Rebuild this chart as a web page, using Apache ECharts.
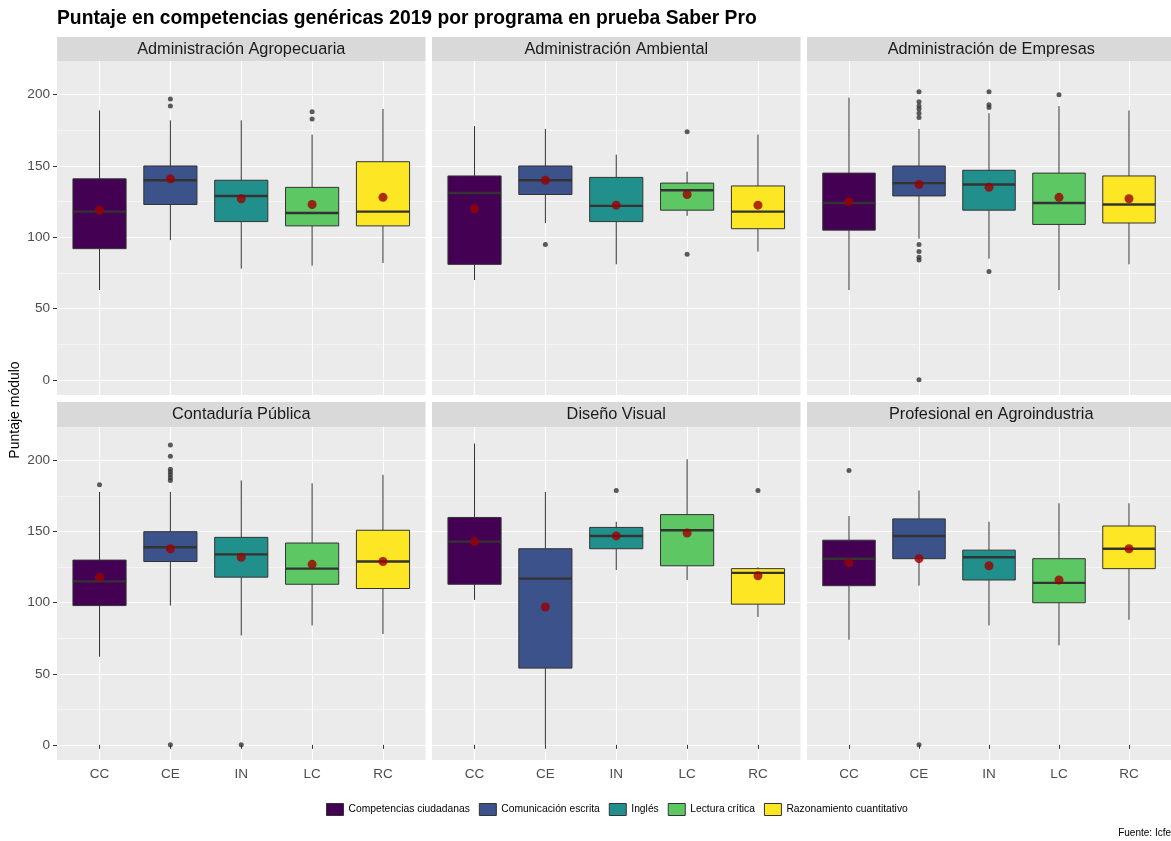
<!DOCTYPE html>
<html>
<head>
<meta charset="utf-8">
<script src="https://cdn.jsdelivr.net/npm/echarts@6/dist/echarts.min.js"></script>
<style>
  html, body { margin: 0; padding: 0; background: #fff; }
  #main { width: 1171px; height: 841px; }
</style>
</head>
<body>
<div id="main"></div>
<script>
// datos: [minimo bigote, Q1, mediana, Q3, maximo bigote]
var programas = ['Administración Agropecuaria', 'Administración Ambiental', 'Administración de Empresas',
    'Contaduría Pública', 'Diseño Visual', 'Profesional en Agroindustria'];
var competencias = ['Competencias ciudadanas', 'Comunicación escrita', 'Inglés', 'Lectura crítica', 'Razonamiento cuantitativo'];
var codigos = ['CC', 'CE', 'IN', 'LC', 'RC'];
var ticksY = [0, 50, 100, 150, 200];
var ticksYMenores = [25, 75, 125, 175];

var cajasAgropecuaria = [[63, 92, 118, 141, 189], [98, 123, 140, 150, 182], [78, 111, 129, 140, 182], [80, 108, 117, 135, 172], [82, 108, 118, 153, 190]];
var mediasAgropecuaria = [119, 141, 127, 123, 128];
var atipicosAgropecuaria = [[], [197, 192], [], [188, 183], []];

var cajasAmbiental = [[70, 81, 131, 143, 178], [110, 130, 140, 150, 176], [81, 111, 122, 142, 158], [115, 119, 133, 138, 146], [90, 106, 118, 136, 172]];
var mediasAmbiental = [120, 140, 122.5, 130, 122.5];
var atipicosAmbiental = [[], [95], [], [174, 88], []];

var cajasEmpresas = [[63, 105, 124, 145, 198], [99, 129, 138, 150, 176], [85, 119, 137, 147, 187], [63, 109, 124, 145, 192], [81, 110, 123, 143, 189]];
var mediasEmpresas = [125, 137, 135, 128, 127];
var atipicosEmpresas = [[], [202, 195, 192, 190, 187, 184, 95, 90, 86, 84, 0], [202, 193, 191, 76], [200], []];

var cajasContaduria = [[62, 98, 115, 130, 178], [98, 129, 139, 150, 178], [77, 118, 134, 146, 186], [84, 113, 124, 142, 184], [78, 110, 129, 151, 190]];
var mediasContaduria = [118, 138, 132, 127, 129];
var atipicosContaduria = [[183], [211, 203, 194, 192, 190, 188, 186, 0], [0], [], []];

var cajasDiseno = [[102, 113, 143, 160, 212], [0, 54, 117, 138, 178], [123, 138, 147, 153, 157], [116, 126, 151, 162, 201], [90, 99, 121, 124, 125]];
var mediasDiseno = [143, 97, 147, 149, 119];
var atipicosDiseno = [[], [], [179], [], [179]];

var cajasAgroindustria = [[74, 112, 131, 144, 161], [112, 131, 147, 159, 179], [84, 116, 132, 137, 157], [70, 100, 114, 131, 170], [88, 124, 138, 154, 170]];
var mediasAgroindustria = [128, 131, 126, 116, 138];
var atipicosAgroindustria = [[193], [0], [], [], []];

var cajas = [cajasAgropecuaria, cajasAmbiental, cajasEmpresas, cajasContaduria, cajasDiseno, cajasAgroindustria];
var medias = [mediasAgropecuaria, mediasAmbiental, mediasEmpresas, mediasContaduria, mediasDiseno, mediasAgroindustria];
var atipicos = [atipicosAgropecuaria, atipicosAmbiental, atipicosEmpresas, atipicosContaduria, atipicosDiseno, atipicosAgroindustria];

var colores = ['#440154', '#3B528B', '#21908C', '#5DC863', '#FDE725'];
var fuente = 'Liberation Sans, Arial, sans-serif';

var Mychart = echarts.init(document.getElementById('main'));

var izquierdas = [57, 432, 807];
var arribas = [61, 427];
var anchoPanel = 368.5;
var altoPanel = 334;

function dibujarCaja(params, api) {
    var x = api.value(0);
    var lo = api.coord([x, api.value(1)]);
    var q1 = api.coord([x, api.value(2)]);
    var me = api.coord([x, api.value(3)]);
    var q3 = api.coord([x, api.value(4)]);
    var hi = api.coord([x, api.value(5)]);
    var w = api.size([0.75, 0])[0];
    var linea = { stroke: '#333333', lineWidth: 1 };
    return {
        type: 'group',
        children: [
            { type: 'line', shape: { x1: lo[0], y1: lo[1], x2: q1[0], y2: q1[1] }, style: linea },
            { type: 'line', shape: { x1: q3[0], y1: q3[1], x2: hi[0], y2: hi[1] }, style: linea },
            { type: 'rect', shape: { x: q3[0] - w / 2, y: q3[1], width: w, height: q1[1] - q3[1] },
              style: { fill: api.visual('color'), stroke: '#333333', lineWidth: 1 } },
            { type: 'line', shape: { x1: me[0] - w / 2, y1: me[1], x2: me[0] + w / 2, y2: me[1] },
              style: { stroke: '#333333', lineWidth: 2.4 } }
        ]
    };
}

var grid = [], xAxis = [], yAxis = [], series = [], graphic = [];

programas.forEach(function (prog, p) {
    var col = p % 3, fila = Math.floor(p / 3);
    grid.push({
        left: izquierdas[col], top: arribas[fila], width: anchoPanel, height: fila == 0 ? altoPanel : 333,
        show: true, backgroundColor: '#EBEBEB', borderWidth: 0
    });
    xAxis.push({
        type: 'value', gridIndex: p, min: 0.4, max: 5.6, position: 'bottom',
        axisLine: { show: false },
        axisTick: { show: fila == 1, customValues: [1, 2, 3, 4, 5], length: 4, lineStyle: { color: '#333333' } },
        axisLabel: {
            show: fila == 1, customValues: [1, 2, 3, 4, 5], margin: 7,
            color: '#4D4D4D', fontSize: 13.5, fontFamily: fuente,
            formatter: function (v) { return codigos[Math.round(v) - 1]; }
        },
        splitLine: { show: true, lineStyle: { color: '#FFFFFF', width: 1.1 } }
    });
    // eje menor (solo lineas finas)
    yAxis.push({
        type: 'value', gridIndex: p, min: -10.65, max: 223.65, position: 'left',
        axisLine: { show: false },
        axisTick: { show: false, customValues: ticksYMenores },
        axisLabel: { show: false, customValues: ticksYMenores },
        splitLine: { show: true, lineStyle: { color: '#FFFFFF', width: 0.5 } }
    });
    yAxis.push({
        type: 'value', gridIndex: p, min: -10.65, max: 223.65, position: 'left',
        axisLine: { show: false },
        axisTick: { show: col == 0, customValues: ticksY, length: 4, lineStyle: { color: '#333333' } },
        axisLabel: { show: col == 0, customValues: ticksY, margin: 7, color: '#4D4D4D', fontSize: 13.6, fontFamily: fuente },
        splitLine: { show: true, lineStyle: { color: '#FFFFFF', width: 1.1 } }
    });

    // franja con el nombre del programa
    graphic.push({
        type: 'rect', left: izquierdas[col], top: fila == 0 ? 37 : 402,
        shape: { width: anchoPanel, height: fila == 0 ? 24 : 25 },
        style: { fill: '#D9D9D9' }, silent: true
    });
    graphic.push({
        type: 'text', x: izquierdas[col] + anchoPanel / 2, y: fila == 0 ? 49.5 : 415,
        style: { text: prog, fill: '#1A1A1A', font: '16.3px ' + fuente, textAlign: 'center', textVerticalAlign: 'middle' },
        silent: true
    });

    var c = cajas[p];
    competencias.forEach(function (comp, k) {
        series.push({
            type: 'custom', name: comp, xAxisIndex: p, yAxisIndex: 2 * p + 1,
            renderItem: dibujarCaja, itemStyle: { color: colores[k] }, z: 2,
            encode: { x: 0, y: [1, 2, 3, 4, 5] },
            data: [[k + 1, c[k][0], c[k][1], c[k][2], c[k][3], c[k][4]]]
        });
    });

    var puntosAtipicos = [];
    atipicos[p].forEach(function (lista, k) {
        lista.forEach(function (v) { puntosAtipicos.push([k + 1, v]); });
    });
    series.push({
        type: 'scatter', xAxisIndex: p, yAxisIndex: 2 * p + 1, symbolSize: 5, z: 3,
        itemStyle: { color: '#333333' }, silent: true, data: puntosAtipicos
    });
    series.push({
        type: 'scatter', xAxisIndex: p, yAxisIndex: 2 * p + 1, symbolSize: 9, z: 4,
        itemStyle: { color: '#9B0000' }, silent: true,
        data: medias[p].map(function (v, k) { return [k + 1, v]; })
    });
});

graphic.push({
    type: 'text', x: 15, y: 410, rotation: Math.PI / 2,
    style: { text: 'Puntaje módulo', fill: '#000000', font: '14px ' + fuente, textAlign: 'center', textVerticalAlign: 'middle' },
    silent: true
});
graphic.push({
    type: 'text', x: 1176, y: 833,
    style: { text: 'Fuente: Icfes', fill: '#000000', font: '10px ' + fuente, textAlign: 'right', textVerticalAlign: 'middle' },
    silent: true
});

option = {
    animation: false,
    backgroundColor: '#FFFFFF',
    title: {
        text: 'Puntaje en competencias genéricas 2019 por programa en prueba Saber Pro',
        left: 52, top: 4,
        textStyle: { fontFamily: fuente, fontSize: 19.3, fontWeight: 'bold', color: '#000000' }
    },
    legend: {
        data: competencias, left: 326, top: 803, padding: 0,
        itemWidth: 17, itemHeight: 12, itemGap: 9, icon: 'rect', selectedMode: false,
        itemStyle: { borderColor: '#333333', borderWidth: 1 },
        textStyle: { fontFamily: fuente, fontSize: 10.3, color: '#000000' }
    },
    grid: grid,
    xAxis: xAxis,
    yAxis: yAxis,
    graphic: graphic,
    series: series
};
Mychart.setOption(option);
</script>
</body>
</html>
